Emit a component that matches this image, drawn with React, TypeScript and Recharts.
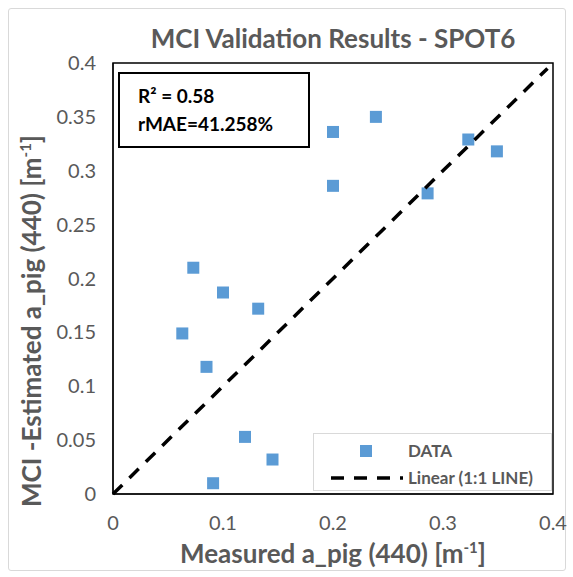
import React from 'react';
import { ScatterChart, Scatter, XAxis, YAxis, ReferenceArea } from 'recharts';

// measured vs estimated a_pig(440)
const measured = [0.239, 0.2, 0.323, 0.349, 0.2, 0.286, 0.073, 0.1, 0.132, 0.063, 0.085, 0.12, 0.145, 0.091];
const estimated = [0.35, 0.336, 0.329, 0.318, 0.286, 0.279, 0.21, 0.187, 0.172, 0.149, 0.118, 0.053, 0.032, 0.01];
const oneToOne = [0, 0.395];
const xTicks = [0, 0.1, 0.2, 0.3, 0.4];
const yTicks = [0, 0.05, 0.1, 0.15, 0.2, 0.25, 0.3, 0.35, 0.4];

const points = measured.map((x, i) => ({ x, y: estimated[i] }));
const linePts = oneToOne.map((v) => ({ x: v, y: v }));

const FONT = 'Lato, "Noto Sans", sans-serif';
const GREY = '#595959';
const BLUE = '#5B9BD5';

const Square = (props: any) => {
  const { cx, cy } = props;
  if (cx == null || cy == null) return null;
  return <rect x={cx - 6} y={cy - 6} width={12} height={12} fill={BLUE} />;
};

const App: React.FC = () => {
  const tick = { fill: GREY, fontSize: 20, fontFamily: FONT };
  return (
    <div style={{ position: 'absolute', left: 0, top: 0, width: 573, height: 577, background: '#fff', fontFamily: FONT }}>
      <div style={{ position: 'absolute', left: 8, top: 8, width: 556, height: 561, border: '1px solid #d9d9d9', borderRadius: 3 }} />
      <div style={{ position: 'absolute', left: 113, width: 440, top: 22, textAlign: 'center', fontSize: 26, fontWeight: 700, color: GREY, lineHeight: '32px' }}>
        MCI Validation Results - SPOT6
      </div>
      <ScatterChart width={573} height={577} margin={{ top: 63, right: 20, bottom: 0, left: 0 }}>
        <XAxis
          type="number"
          dataKey="x"
          domain={[0, 0.4]}
          ticks={xTicks}
          tick={tick}
          tickLine={false}
          tickMargin={16}
          axisLine={{ stroke: '#000' }}
          height={83}
        />
        <YAxis
          type="number"
          dataKey="y"
          domain={[0, 0.4]}
          ticks={yTicks}
          tick={tick}
          tickLine={false}
          tickMargin={11}
          axisLine={{ stroke: '#000' }}
          width={113}
        />
        <ReferenceArea x1={0} x2={0.4} y1={0} y2={0.4} fill="none" stroke="#000" strokeWidth={1.5} ifOverflow="visible" />
        <Scatter data={points} shape={<Square />} isAnimationActive={false} />
        <Scatter
          data={linePts}
          line={{ stroke: '#000', strokeWidth: 3.5, strokeDasharray: '13 10' }}
          shape={() => null}
          isAnimationActive={false}
        />
      </ScatterChart>
      <div style={{ position: 'absolute', left: 113, width: 440, top: 537, textAlign: 'center', fontSize: 26, fontWeight: 700, color: GREY, lineHeight: '32px' }}>
        Measured a_pig (440) [m<sup style={{ fontSize: 15, lineHeight: 0 }}>-1</sup>]
      </div>
      <div
        style={{
          position: 'absolute',
          left: 31,
          top: 321,
          transform: 'translate(-50%, -50%) rotate(-90deg)',
          whiteSpace: 'nowrap',
          fontSize: 26,
          fontWeight: 700,
          color: GREY,
          lineHeight: '32px',
        }}
      >
        MCI -Estimated a_pig (440) [m<sup style={{ fontSize: 15, lineHeight: 0 }}>-1</sup>]
      </div>
      <div
        style={{
          position: 'absolute',
          left: 118,
          top: 72,
          width: 192,
          height: 76,
          border: '2px solid #000',
          background: '#fff',
          boxSizing: 'border-box',
          padding: '8px 0 0 18px',
          fontSize: 19,
          fontWeight: 700,
          color: '#000',
          lineHeight: '28px',
        }}
      >
        <div>R² = 0.58</div>
        <div>rMAE=41.258%</div>
      </div>
      <div
        style={{
          position: 'absolute',
          left: 313,
          top: 433,
          width: 239,
          height: 58,
          border: '1px solid #d9d9d9',
          background: '#fff',
          boxSizing: 'border-box',
          fontSize: 17,
          fontWeight: 700,
          color: GREY,
          lineHeight: '22px',
        }}
      >
        <div style={{ position: 'absolute', left: 46, top: 11, width: 12, height: 12, background: BLUE }} />
        <span style={{ position: 'absolute', left: 94, top: 6 }}>DATA</span>
        <svg style={{ position: 'absolute', left: 17, top: 41 }} width={72} height={6}>
          <line x1={0} y1={3} x2={72} y2={3} stroke="#000" strokeWidth={3.5} strokeDasharray="13 10" />
        </svg>
        <span style={{ position: 'absolute', left: 94, top: 33 }}>Linear (1:1 LINE)</span>
      </div>
    </div>
  );
};

export default App;
